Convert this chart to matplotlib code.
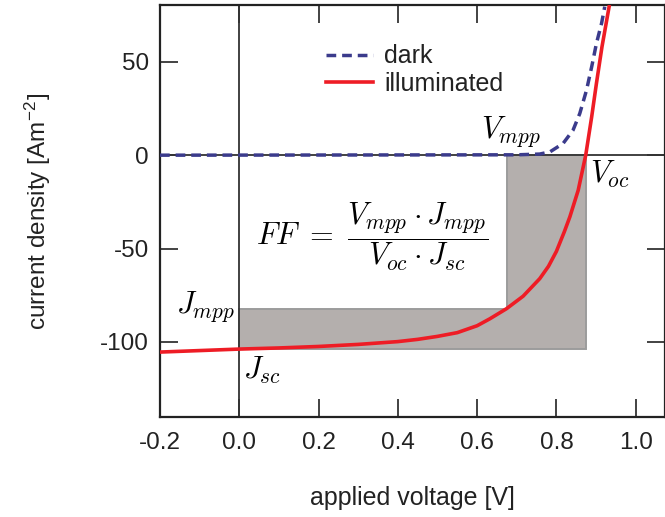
import matplotlib
matplotlib.use("Agg")
import matplotlib.pyplot as plt

plt.rcParams['font.family'] = ['Liberation Sans', 'DejaVu Sans']
plt.rcParams['mathtext.fontset'] = 'cm'

# Data
v_illum = [-0.2, 0.0, 0.1, 0.2, 0.3, 0.4, 0.45, 0.5, 0.55, 0.6, 0.632, 0.674, 0.716, 0.758,
           0.78, 0.80, 0.82, 0.834, 0.855, 0.874, 0.889, 0.901, 0.915, 0.933]
j_illum = [-105.4, -103.8, -103.2, -102.4, -101.3, -99.8, -98.6, -97.0, -95.0, -91.3, -87.6,
           -82.2, -75.5, -66.1, -59.5, -51.5, -41.0, -33.0, -18.8, 0.0, 20.5, 38.4, 58.0, 79.5]

v_dark = [-0.2, 0.70, 0.758, 0.784, 0.817, 0.842, 0.859, 0.876, 0.889, 0.901, 0.914, 0.922]
j_dark = [0.0, 0.2, 0.6, 1.8, 6.3, 13.4, 22.3, 34.8, 47.3, 59.8, 70.6, 79.5]

v_mpp, j_mpp = 0.675, -82.5
v_oc, j_sc = 0.874, -104.0

x_ticks = [-0.2, 0.0, 0.2, 0.4, 0.6, 0.8, 1.0]
x_ticklabels = ['-0.2', '0.0', '0.2', '0.4', '0.6', '0.8', '1.0']
y_ticks = [-100, -50, 0, 50]
y_ticklabels = ['-100', '-50', '0', '50']

fig = plt.figure(figsize=(6.65, 5.17), dpi=100)
ax = fig.add_axes([160/665, 100.3/517, 505/665, 411.7/517])

# shaded L-shaped region
poly_x = [0, v_oc, v_oc, v_mpp, v_mpp, 0, 0]
poly_y = [j_sc, j_sc, 0, 0, j_mpp, j_mpp, j_sc]
ax.fill(poly_x, poly_y, facecolor='#b4afad', edgecolor='#9c9c9c', linewidth=1.4, zorder=1)

ax.axhline(0, color='#333333', linewidth=1.3, zorder=2)
ax.axvline(0, color='#333333', linewidth=1.3, zorder=2)

ax.plot(v_dark, j_dark, color='#3b3b8c', linewidth=2.5, linestyle=(0, (2.8, 1.7)),
        label='dark', zorder=4, dash_capstyle='butt')
ax.plot(v_illum, j_illum, color='#ee1c25', linewidth=2.6, label='illuminated', zorder=5,
        solid_joinstyle='round')

ax.set_xlim(-0.2, 1.074)
ax.set_ylim(-140, 80.4)
ax.set_xticks(x_ticks)
ax.set_xticklabels(x_ticklabels)
ax.set_yticks(y_ticks)
ax.set_yticklabels(y_ticklabels)
ax.tick_params(direction='in', length=13, width=1.2, labelsize=17.5, colors='#222222',
               top=True, right=True, pad=8)
ax.tick_params(axis='x', pad=11)
for s in ax.spines.values():
    s.set_linewidth(1.6)
    s.set_color('#222222')

ax.set_xlabel('applied voltage [V]', fontsize=18, color='#222222', labelpad=23)
ax.set_ylabel('current density [Am$^{\\mathregular{-2}}$]', fontsize=17.5, color='#222222',
              labelpad=34)

leg = ax.legend(loc='upper left', bbox_to_anchor=(0.303, 0.935), frameon=False,
                fontsize=18, handlelength=1.9, handletextpad=0.45, labelspacing=0.14,
                borderpad=0)
for t in leg.get_texts():
    t.set_color('#222222')

ax.text(v_mpp + 0.01, 3.5, r'$V_{mpp}$', fontsize=22, ha='center', va='bottom')
ax.text(v_oc + 0.012, -2, r'$V_{oc}$', fontsize=22, ha='left', va='top')
ax.text(-0.01, j_mpp + 1.5, r'$J_{mpp}$', fontsize=22, ha='right', va='center')
ax.text(0.01, j_sc - 3, r'$J_{sc}$', fontsize=22, ha='left', va='top')
ax.text(0.335, -44, r'$FF\ =\ \dfrac{V_{mpp}\cdot J_{mpp}}{V_{oc}\cdot J_{sc}}$',
        fontsize=22, ha='center', va='center')

fig.savefig('out.png', dpi=100)
